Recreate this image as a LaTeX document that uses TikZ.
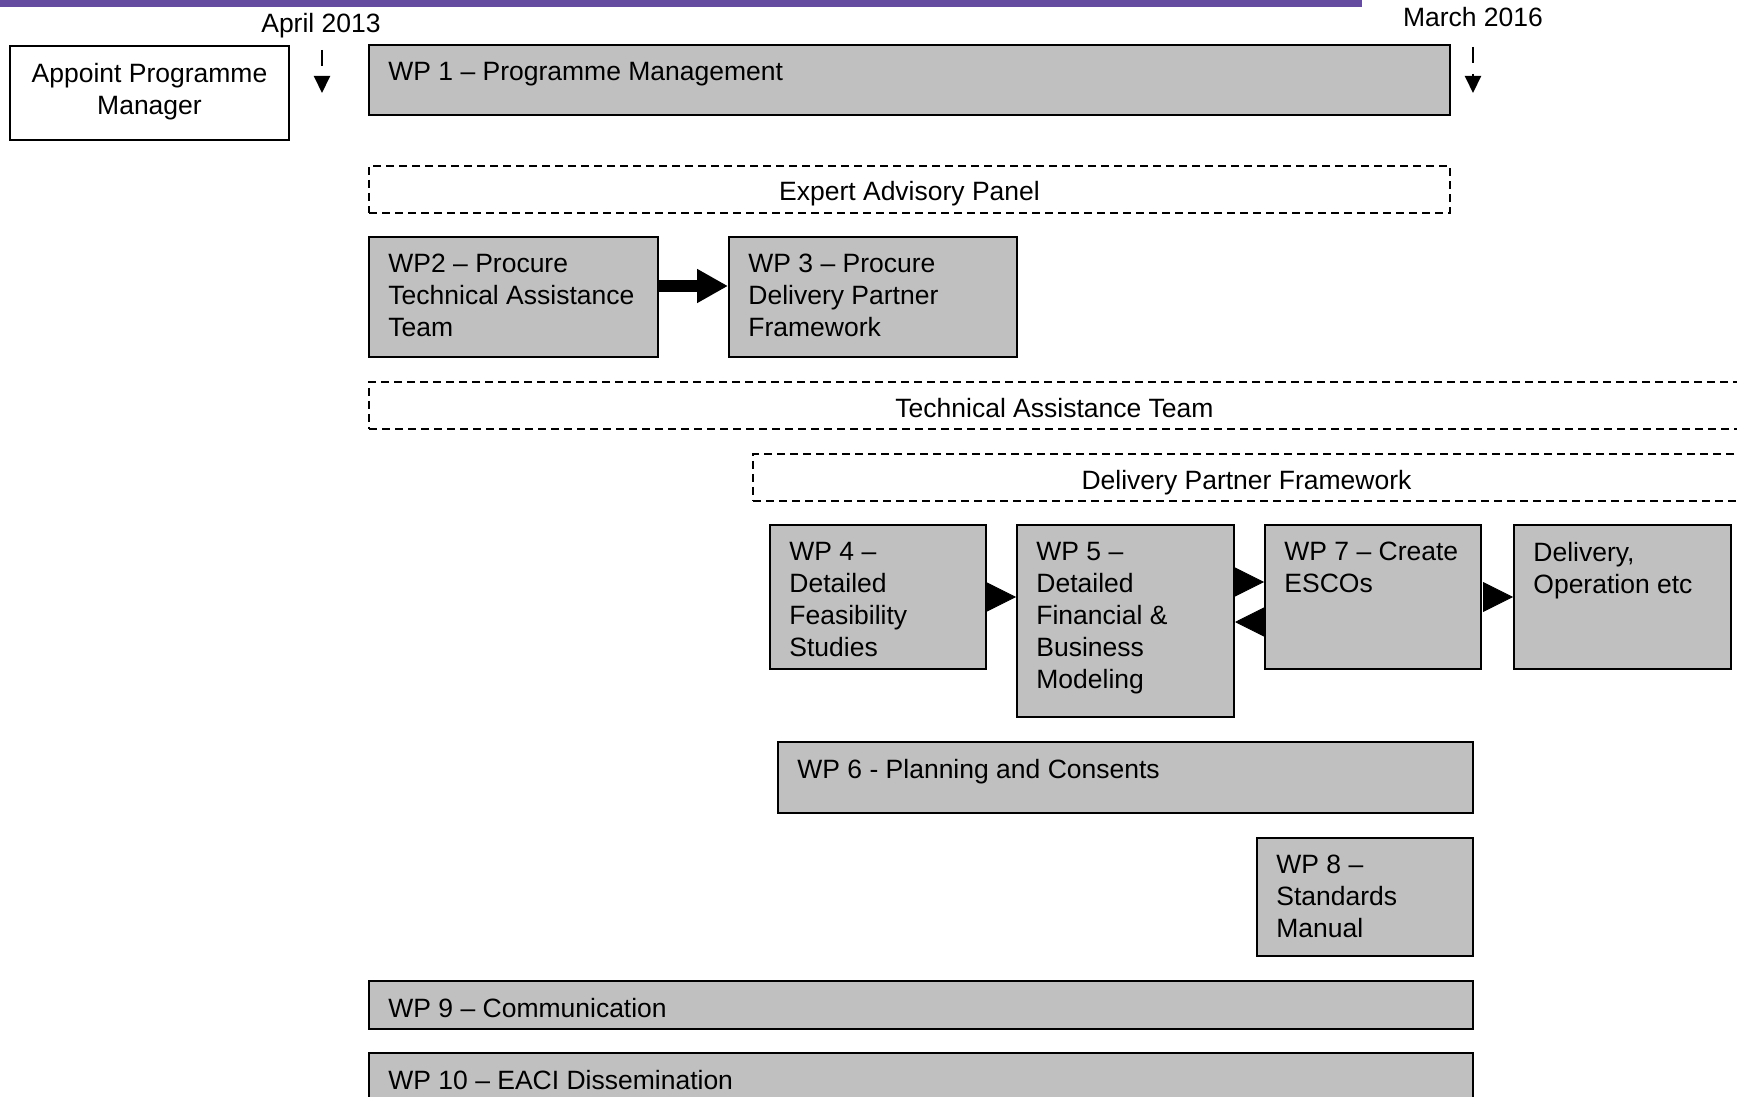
\documentclass[tikz,border=0pt]{standalone}
\usepackage{fontspec}
\setmainfont{Liberation Sans}
\usetikzlibrary{arrows.meta,fit}
\definecolor{wpgrey}{RGB}{192,192,192}
\definecolor{barpurple}{RGB}{102,76,160}

\begin{document}
\begin{tikzpicture}[x=0.5pt,y=-0.5pt,
		every node/.style={font=\fontsize{13.25}{16}\selectfont},
		wp/.style={draw, fill=wpgrey, line width=1pt, inner sep=0pt},
		panel/.style={draw, dash pattern=on 4pt off 2.5pt, line width=0.8pt, inner sep=0pt},
		wptext/.style={anchor=north west, align=left, inner xsep=10pt, inner ysep=9pt},
		paneltext/.style={anchor=center, inner sep=0pt, text height=11.5pt, text depth=0pt},
		datemark/.style={line width=1pt, dash pattern=on 8pt off 5.5pt, -{Triangle[length=8.5pt,width=8pt]}},
		bigarrow/.style={line width=6pt, -{Triangle[length=15.5pt,width=16pt]}},
		headonly/.style={line width=0.4pt, -{Triangle[length=15pt,width=15pt]}}]
			\clip (0,0) rectangle (1737,1097);
			\fill [barpurple] (0,0) rectangle (1362,7);

			% dates
			\node [anchor=base] (apr) at (321,33) {April 2013};
			\node [anchor=base] (mar) at (1473,27) {March 2016};
			\coordinate (aprtop) at (322,50);
			\coordinate (aprtip) at (322,93);
			\coordinate (martop) at (1473,47);
			\coordinate (martip) at (1473,93);
			\draw [datemark] (aprtop) -- (aprtip);
			\draw [datemark] (martop) -- (martip);

			\node [wp, fill=white, fit={(10,46) (289,140)},
				label={[wptext, anchor=north, align=center]north:{Appoint Programme\\Manager}}] (apm) {};
			\node [wp, fit={(369,45) (1450,115)},
				label={[wptext]north west:{WP 1 – Programme Management}}] (wp1) {};

			\node [panel, fit={(369,166) (1450,213)},
				label={[paneltext]center:{Expert Advisory Panel}}] (eap) {};

			\node [wp, fit={(369,237) (658,357)},
				label={[wptext]north west:{WP2 – Procure\\Technical Assistance\\Team}}] (wp2) {};
			\node [wp, fit={(729,237) (1017,357)},
				label={[wptext]north west:{WP 3 – Procure\\Delivery Partner\\Framework}}] (wp3) {};

			\node [panel, fit={(369,382) (1740,429)},
				label={[paneltext]center:{Technical Assistance Team}}] (tat) {};
			\node [panel, fit={(753,454) (1740,501)},
				label={[paneltext]center:{Delivery Partner Framework}}] (dpf) {};

			\node [wp, fit={(770,525) (986,669)},
				label={[wptext]north west:{WP 4 –\\Detailed\\Feasibility\\Studies}}] (wp4) {};
			\node [wp, fit={(1017,525) (1234,717)},
				label={[wptext]north west:{WP 5 –\\Detailed\\Financial \&\\Business\\Modeling}}] (wp5) {};
			\node [wp, fit={(1265,525) (1481,669)},
				label={[wptext]north west:{WP 7 – Create\\ESCOs}}] (wp7) {};
			\node [wp, fit={(1514,525) (1731,669)},
				label={[wptext]north west:{Delivery,\\Operation etc}}] (dlv) {};

			\node [wp, fit={(778,742) (1473,813)},
				label={[wptext]north west:{WP 6 - Planning and Consents}}] (wp6) {};
			\node [wp, fit={(1257,838) (1473,956)},
				label={[wptext]north west:{WP 8 –\\Standards\\Manual}}] (wp8) {};
			\node [wp, fit={(369,981) (1473,1029)},
				label={[wptext]north west:{WP 9 – Communication}}] (wp9) {};
			\node [wp, fit={(369,1053) (1473,1120)},
				label={[wptext]north west:{WP 10 – EACI Dissemination}}] (wp10) {};

			% links
			\draw [bigarrow] (wp2.east |- 0,286) -- (wp3.west |- 0,286);
			\draw [headonly] (wp4.east) -- (wp4.east -| wp5.west);
			\draw [headonly] (wp5.east |- 0,582) -- (wp7.west |- 0,582);
			\draw [headonly] (wp7.west |- 0,622) -- (wp5.east |- 0,622);
			\draw [headonly, shorten <=1.5pt] (wp7.east) -- (wp7.east -| dlv.west);
		\end{tikzpicture}
\end{document}
